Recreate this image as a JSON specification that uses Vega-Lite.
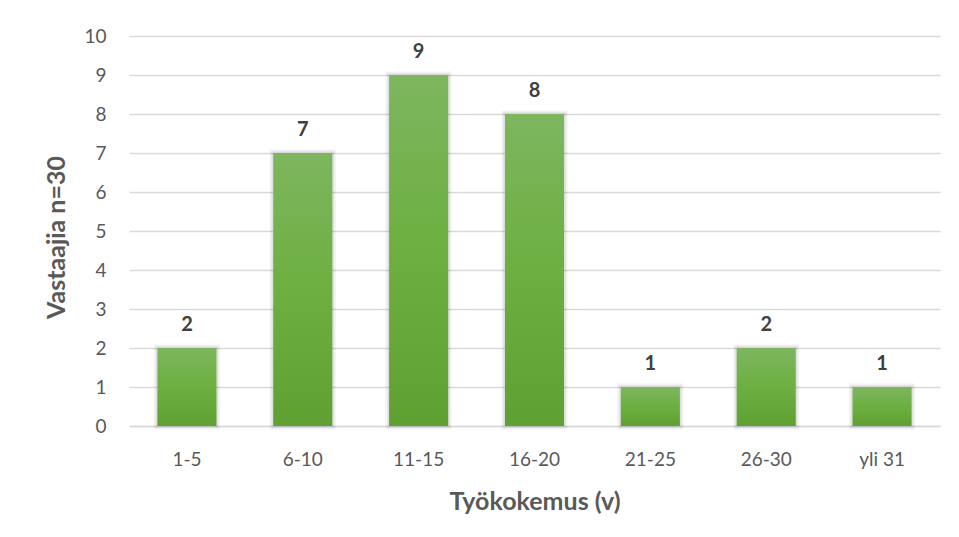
{
  "$schema": "https://vega.github.io/schema/vega-lite/v6.json",
  "width": 811,
  "height": 390,
  "autosize": "none",
  "padding": {"left": 129, "top": 36, "right": 19, "bottom": 111},
  "background": "white",
  "config": {
    "font": "Lato",
    "view": {"stroke": null}
  },
  "data": {
    "values": [
      {"ryhma": "1-5", "vastaajia": 2},
      {"ryhma": "6-10", "vastaajia": 7},
      {"ryhma": "11-15", "vastaajia": 9},
      {"ryhma": "16-20", "vastaajia": 8},
      {"ryhma": "21-25", "vastaajia": 1},
      {"ryhma": "26-30", "vastaajia": 2},
      {"ryhma": "yli 31", "vastaajia": 1}
    ]
  },
  "encoding": {
    "x": {
      "field": "ryhma",
      "type": "nominal",
      "sort": null,
      "scale": {"paddingInner": 0.49, "paddingOuter": 0.245},
      "axis": {
        "title": "Työkokemus (v)",
        "titleFontSize": 25,
        "titleFontWeight": "bold",
        "titleColor": "#595959",
        "titleBaseline": "alphabetic",
        "titleY": 83,
        "labelAngle": 0,
        "labelFontSize": 19,
        "labelColor": "#595959",
        "labelBaseline": "alphabetic",
        "labelPadding": 39,
        "ticks": false,
        "domainColor": "#d9d9d9",
        "domainWidth": 1.5
      }
    },
    "y": {
      "field": "vastaajia",
      "type": "quantitative",
      "scale": {"domain": [0, 10]},
      "axis": {
        "title": "Vastaajia n=30",
        "titleFontSize": 25,
        "titleFontWeight": "bold",
        "titleColor": "#595959",
        "titleX": -73,
        "titleY": 201,
        "titleBaseline": "middle",
        "tickCount": 10,
        "labelFontSize": 19,
        "labelColor": "#595959",
        "labelPadding": 23,
        "ticks": false,
        "domain": false,
        "gridColor": "#d9d9d9",
        "gridWidth": 1.5
      }
    }
  },
  "layer": [
    {
      "mark": {
        "type": "bar",
        "fill": null,
        "stroke": "#000000",
        "strokeOpacity": 0.05,
        "strokeWidth": 7
      }
    },
    {
      "mark": {
        "type": "bar",
        "fill": null,
        "stroke": "#000000",
        "strokeOpacity": 0.07,
        "strokeWidth": 3.5
      }
    },
    {
      "mark": {
        "type": "bar",
        "fill": {
          "gradient": "linear",
          "x1": 0, "y1": 0, "x2": 0, "y2": 1,
          "stops": [
            {"offset": 0, "color": "#7db65f"},
            {"offset": 0.5, "color": "#6daf40"},
            {"offset": 1, "color": "#60a033"}
          ]
        }
      }
    },
    {
      "mark": {
        "type": "text",
        "dy": -17,
        "baseline": "alphabetic",
        "fontSize": 20,
        "fontWeight": "bold",
        "color": "#404040"
      },
      "encoding": {"text": {"field": "vastaajia", "type": "quantitative"}}
    }
  ]
}
